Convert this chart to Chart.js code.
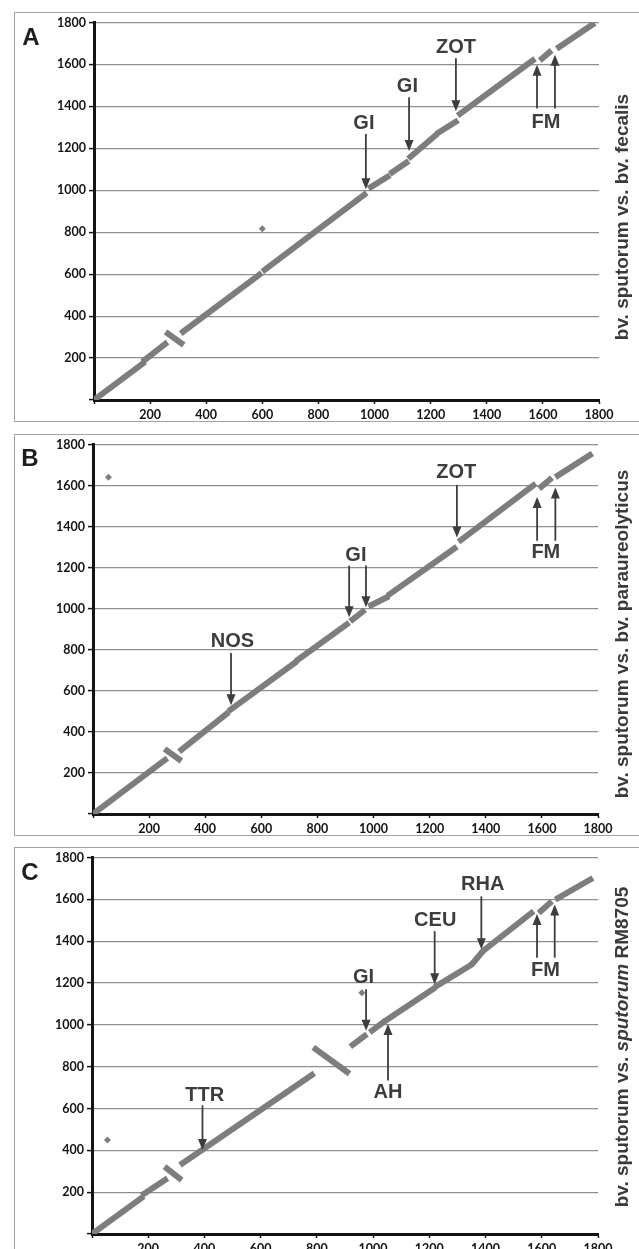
<!DOCTYPE html>
<html>
<head>
<meta charset="utf-8">
<script src="https://cdn.jsdelivr.net/npm/chart.js@4.4.1/dist/chart.umd.min.js"></script>
<style>
    html, body { margin: 0; padding: 0; background: #fff; }
    body { width: 639px; height: 1249px; overflow: hidden; position: relative; font-family: "Liberation Sans", Arial, sans-serif; }
    .box { position: absolute; left: 14px; width: 640px; border: 1px solid #a3a3a3; box-sizing: border-box; }
    canvas { position: absolute; left: 14px; }
    .letter { position: absolute; font-weight: bold; font-size: 24px; color: #1e1e1e; transform: translate(-50%, -50%); }
    .side { position: absolute; font-weight: bold; font-size: 19px; color: #3a3a3a; white-space: nowrap; transform: translate(-50%, -50%) rotate(-90deg); }
</style>
</head>
<body>
<div class="box" style="top:12px;height:410px"></div>
<div class="box" style="top:434px;height:402px"></div>
<div class="box" style="top:847px;height:420px"></div>
<canvas id="chartA" width="626" height="410" style="top:12px"></canvas>
<canvas id="chartB" width="626" height="402" style="top:434px"></canvas>
<canvas id="chartC" width="626" height="420" style="top:847px"></canvas>
<div class="letter" style="left:31px;top:37px">A</div>
<div class="letter" style="left:30px;top:458px">B</div>
<div class="letter" style="left:30px;top:872px">C</div>
<div class="side" style="left:622px;top:217px">bv. sputorum vs. bv. fecalis</div>
<div class="side" style="left:622px;top:634px">bv. sputorum vs. bv. paraureolyticus</div>
<div class="side" style="left:622px;top:1047px">bv. sputorum vs. <i>sputorum</i> RM8705</div>

<script>
// --- Dati: segmenti [x1, y1, x2, y2] in coordinate dei due genomi (kb) ---
const axisTicks = [200, 400, 600, 800, 1000, 1200, 1400, 1600, 1800];

const segsA = [
    [0, 0, 182, 182], [172, 182, 262, 276], [255, 325, 320, 262],
    [309, 317, 598, 606], [600, 612, 972, 988], [978, 1008, 1055, 1072],
    [1054, 1078, 1122, 1140], [1120, 1150, 1224, 1270], [1220, 1268, 1298, 1334],
    [1296, 1356, 1572, 1627], [1589, 1619, 1631, 1667], [1649, 1675, 1785, 1798]
];
const dotsA = [[600, 817]];
const labelsA = [['GI', 962, 1317], ['GI', 1117, 1496], ['ZOT', 1290, 1681], ['FM', 1611, 1322]];
const arrowsA = [[969, 1269, 1005], [1123, 1443, 1187], [1290, 1629, 1377], [1579, 1390, 1599], [1643, 1390, 1646]];

const segsB = [
    [0, 0, 265, 272], [255, 317, 315, 258], [307, 304, 484, 496],
    [482, 500, 727, 744], [723, 744, 913, 932], [917, 938, 970, 995],
    [982, 1011, 1055, 1061], [1050, 1064, 1297, 1302], [1303, 1326, 1578, 1609],
    [1590, 1585, 1636, 1638], [1648, 1641, 1780, 1756]
];
const dotsB = [[55, 1640]];
const labelsB = [['NOS', 497, 842], ['GI', 937, 1258], ['ZOT', 1295, 1662], ['FM', 1614, 1274]];
const arrowsB = [[492, 784, 530], [913, 1210, 959], [973, 1210, 1007], [1297, 1603, 1347], [1583, 1331, 1544], [1648, 1331, 1590]];

const segsC = [
    [0, 0, 184, 180], [176, 184, 269, 266], [258, 322, 319, 258],
    [313, 330, 791, 769], [787, 892, 916, 766], [919, 896, 978, 956],
    [988, 964, 1045, 1021], [1041, 1017, 1223, 1180], [1219, 1180, 1354, 1291],
    [1350, 1287, 1392, 1354], [1388, 1350, 1571, 1543], [1589, 1535, 1636, 1591],
    [1648, 1599, 1782, 1702]
];
const dotsC = [[55, 450], [960, 1153]];
const labelsC = [['TTR', 401, 663], ['GI', 966, 1226], ['AH', 1053, 678], ['CEU', 1221, 1499], ['RHA', 1390, 1670], ['FM', 1613, 1261]];
const arrowsC = [[393, 615, 401], [975, 1170, 972], [1053, 734, 1004], [1219, 1448, 1194], [1385, 1614, 1361], [1583, 1321, 1530], [1646, 1321, 1575]];

// --- Plugin per etichette e frecce ---
const arrowPlugin = {
    id: 'arrows',
    afterDatasetsDraw(chart, args, opts) {
        const { ctx } = chart;
        const xs = chart.scales.x, ys = chart.scales.y;
        ctx.save();
        ctx.strokeStyle = '#3d3d3d';
        ctx.fillStyle = '#3d3d3d';
        ctx.lineWidth = 1.8;
        (opts.arrows || []).forEach(a => {
            const px = xs.getPixelForValue(a[0]);
            const p0 = ys.getPixelForValue(a[1]);
            const p1 = ys.getPixelForValue(a[2]);
            const dir = Math.sign(p1 - p0);
            ctx.beginPath();
            ctx.moveTo(px, p0);
            ctx.lineTo(px, p1 - dir * 8);
            ctx.stroke();
            ctx.beginPath();
            ctx.moveTo(px, p1);
            ctx.lineTo(px - 4.5, p1 - dir * 11);
            ctx.lineTo(px + 4.5, p1 - dir * 11);
            ctx.closePath();
            ctx.fill();
        });
        ctx.font = 'bold 20px "Liberation Sans", Arial, sans-serif';
        ctx.textAlign = 'center';
        ctx.textBaseline = 'middle';
        (opts.labels || []).forEach(l => {
            ctx.fillText(l[0], xs.getPixelForValue(l[1]), ys.getPixelForValue(l[2]));
        });
        ctx.restore();
    }
};

function makeChart(id, segs, dots, labels, arrows, box) {
    const ctx = document.getElementById(id).getContext('2d');
    const tickFont = { family: 'Lato', weight: 'bold', size: 12.5 };

    const datasets = segs.map(s => ({
        data: [{ x: s[0], y: s[1] }, { x: s[2], y: s[3] }],
        showLine: true,
        borderColor: '#7d7d7d',
        borderWidth: 6,
        borderCapStyle: 'butt',
        pointRadius: 0
    }));
    datasets.push({
        data: dots.map(d => ({ x: d[0], y: d[1] })),
        showLine: false,
        pointStyle: 'rectRot',
        pointRadius: 3.5,
        backgroundColor: '#7d7d7d',
        borderColor: '#7d7d7d',
        borderWidth: 0
    });

    return new Chart(ctx, {
        type: 'scatter',
        data: { datasets: datasets },
        options: {
            responsive: false,
            animation: false,
            devicePixelRatio: 1,
            layout: { padding: { top: box.top, right: box.right, left: 0, bottom: 0 } },
            plugins: {
                legend: { display: false },
                tooltip: { enabled: false },
                arrows: { labels: labels, arrows: arrows }
            },
            scales: {
                x: {
                    type: 'linear', min: 0, max: 1800,
                    afterFit: s => { s.height = box.xh; },
                    afterBuildTicks: s => { s.ticks = [0].concat(axisTicks).map(v => ({ value: v })); },
                    ticks: {
                        autoSkip: false, maxRotation: 0, padding: 3, color: '#141414', font: tickFont,
                        callback: v => (v === 0 ? '' : v)
                    },
                    grid: { drawOnChartArea: false, tickLength: 4, tickColor: '#141414', tickWidth: 1.5 },
                    border: { color: '#141414', width: 3 }
                },
                y: {
                    type: 'linear', min: 0, max: 1800,
                    afterFit: s => { s.width = box.left; },
                    afterBuildTicks: s => { s.ticks = [0].concat(axisTicks).map(v => ({ value: v })); },
                    ticks: {
                        padding: 3, color: '#141414', font: tickFont,
                        callback: v => (v === 0 ? '' : v)
                    },
                    grid: { color: '#8f8f8f', lineWidth: 1.2, tickLength: 5, tickColor: '#141414', tickWidth: 1.5 },
                    border: { color: '#141414', width: 3 }
                }
            }
        },
        plugins: [arrowPlugin]
    });
}

makeChart('chartA', segsA, dotsA, labelsA, arrowsA, { top: 9, right: 41, left: 80, xh: 22 });
makeChart('chartB', segsB, dotsB, labelsB, arrowsB, { top: 9, right: 42, left: 79, xh: 22 });
makeChart('chartC', segsC, dotsC, labelsC, arrowsC, { top: 9, right: 42, left: 78, xh: 33 });
</script>
</body>
</html>
